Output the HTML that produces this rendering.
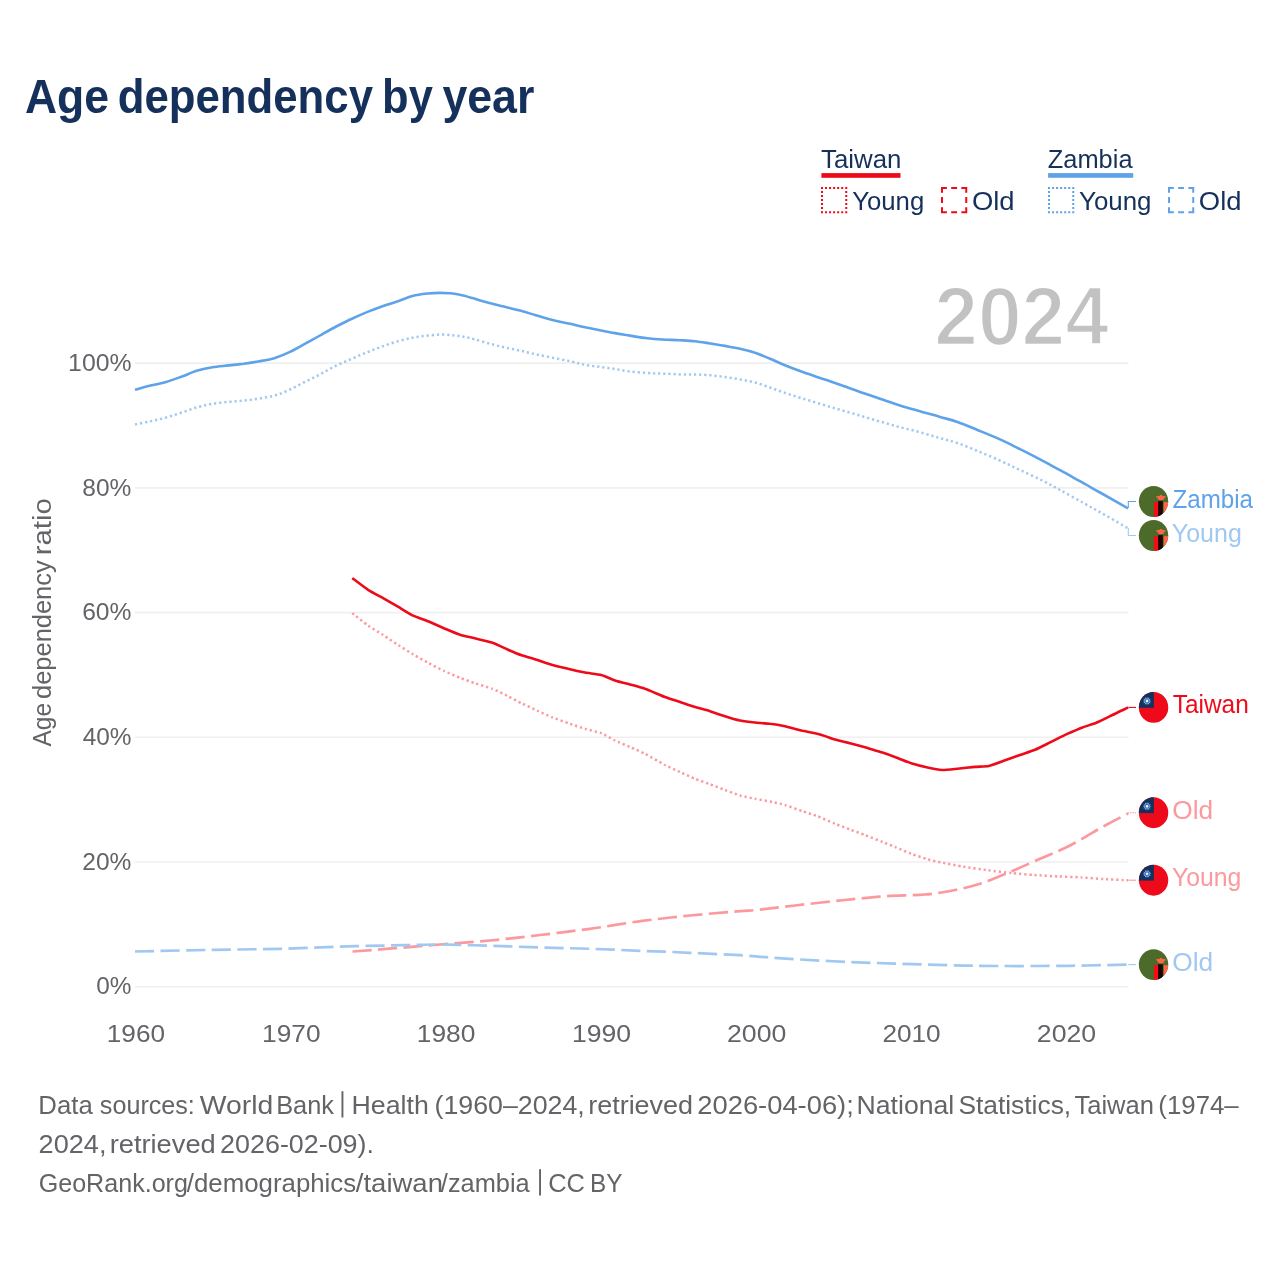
<!DOCTYPE html>
<html><head><meta charset="utf-8"><title>Age dependency by year</title>
<style>
html,body{margin:0;padding:0;background:#fff;}
body{width:1280px;height:1280px;overflow:hidden;font-family:"Liberation Sans",sans-serif;}
svg{display:block;will-change:transform;}
text{font-family:"Liberation Sans",sans-serif;}
</style></head><body>
<svg width="1280" height="1280" viewBox="0 0 1280 1280">
<rect width="1280" height="1280" fill="#ffffff"/>
<defs>
<clipPath id="cc"><ellipse cx="0" cy="0" rx="14.7" ry="15.45"/></clipPath>
<g id="zm"><g clip-path="url(#cc)"><rect x="-16" y="-16" width="32" height="32" fill="#4c6b2a"/>
<rect x="0.35" y="0.6" width="4.3" height="16" fill="#f80a17"/><rect x="4.6" y="-0.35" width="4.7" height="17" fill="#1e0303"/><rect x="10.2" y="0.6" width="6" height="16" fill="#fe6448"/>
<path d="M2.3,-5.3 L6,-5.5 L6.4,-6.6 L8.4,-6.6 L8.7,-5.5 L12.4,-5.3 L9.5,-1.4 L5.3,-1.4 Z" fill="#fe6448"/></g></g>
<g id="tw"><g clip-path="url(#cc)"><rect x="-16" y="-16" width="32" height="32" fill="#ee0a1a"/>
<rect x="-16" y="-16" width="16.3" height="16.4" fill="#15305c"/>
<polygon points="-6.50,-10.70 -5.80,-9.01 -4.35,-10.12 -4.59,-8.31 -2.78,-8.55 -3.89,-7.10 -2.20,-6.40 -3.89,-5.70 -2.78,-4.25 -4.59,-4.49 -4.35,-2.68 -5.80,-3.79 -6.50,-2.10 -7.20,-3.79 -8.65,-2.68 -8.41,-4.49 -10.22,-4.25 -9.11,-5.70 -10.80,-6.40 -9.11,-7.10 -10.22,-8.55 -8.41,-8.31 -8.65,-10.12 -7.20,-9.01" fill="#72b4f7"/><circle cx="-6.5" cy="-6.4" r="2.0" fill="none" stroke="#15305c" stroke-width="0.55"/><circle cx="-6.5" cy="-6.4" r="1.15" fill="#ffffff"/></g></g>
</defs>
<rect x="821.4" y="173.1" width="79.1" height="4.7" fill="#ee0a19"/>
<rect x="822" y="187.9" width="24.25" height="24.25" fill="none" stroke="#ee0a19" stroke-width="2" stroke-dasharray="2 2.0417" stroke-dashoffset="1"/>
<path d="M942.0,192.8 V187.9 H946.9M961.35,187.9 H966.25 V192.8M966.25,207.25 V212.15 H961.35M946.9,212.15 H942.0 V207.25M951.175,187.9 H957.075M951.175,212.15 H957.075M942.0,197.07500000000002 V202.975M966.25,197.07500000000002 V202.975" fill="none" stroke="#ee0a19" stroke-width="2" stroke-linejoin="miter"/>
<rect x="1048.1" y="173.1" width="85.1" height="4.7" fill="#5ea3e9"/>
<rect x="1049" y="187.9" width="24.25" height="24.25" fill="none" stroke="#5ea3e9" stroke-width="2" stroke-dasharray="2 2.0417" stroke-dashoffset="1"/>
<path d="M1169.0,192.8 V187.9 H1173.9M1188.35,187.9 H1193.25 V192.8M1193.25,207.25 V212.15 H1188.35M1173.9,212.15 H1169.0 V207.25M1178.175,187.9 H1184.075M1178.175,212.15 H1184.075M1169.0,197.07500000000002 V202.975M1193.25,197.07500000000002 V202.975" fill="none" stroke="#5ea3e9" stroke-width="2" stroke-linejoin="miter"/>
<text x="934.3" y="345.2" font-size="83" font-weight="bold" fill="#c2c2c2" stroke="#ffffff" stroke-width="2.4" textLength="174.5" lengthAdjust="spacingAndGlyphs">2024</text>
<line x1="135" x2="1128.5" y1="363.1" y2="363.1" stroke="#efefef" stroke-width="1.6"/>
<line x1="135" x2="1128.5" y1="487.9" y2="487.9" stroke="#efefef" stroke-width="1.6"/>
<line x1="135" x2="1128.5" y1="612.6" y2="612.6" stroke="#efefef" stroke-width="1.6"/>
<line x1="135" x2="1128.5" y1="737.3" y2="737.3" stroke="#efefef" stroke-width="1.6"/>
<line x1="135" x2="1128.5" y1="862" y2="862" stroke="#efefef" stroke-width="1.6"/>
<line x1="135" x2="1128.5" y1="986.8" y2="986.8" stroke="#efefef" stroke-width="1.6"/>
<path d="M352.5,951.5C359.6,951.0 380.4,949.4 395.0,948.2C409.6,947.1 424.2,945.8 440.0,944.5C455.8,943.2 473.3,942.1 490.0,940.5C506.7,938.9 523.3,937.0 540.0,935.0C556.7,933.0 573.3,931.0 590.0,928.8C606.7,926.5 623.3,923.5 640.0,921.2C656.7,919.0 673.3,917.2 690.0,915.5C706.7,913.8 728.3,912.2 740.0,911.2C751.7,910.3 750.8,910.6 760.0,909.6C769.2,908.6 780.8,907.1 795.0,905.5C809.2,903.9 830.0,901.5 845.0,900.0C860.0,898.5 871.7,897.2 885.0,896.2C898.3,895.3 913.3,895.5 925.0,894.5C936.7,893.5 945.8,891.8 955.0,890.0C964.2,888.2 970.8,886.8 980.0,883.8C989.2,880.8 1000.0,876.2 1010.0,872.0C1020.0,867.8 1030.0,863.2 1040.0,858.8C1050.0,854.3 1059.4,850.9 1070.0,845.5C1080.6,840.1 1094.1,831.6 1103.8,826.2C1113.4,820.9 1124.0,815.6 1128.1,813.5" fill="none" stroke="#fc999f" stroke-width="2.7" stroke-linejoin="round" stroke-dasharray="19.2 6.4"/>
<path d="M135.0,951.5C146.7,951.2 180.8,950.5 205.0,950.0C229.2,949.5 255.0,949.4 280.0,948.8C305.0,948.1 334.2,946.8 355.0,946.2C375.8,945.7 390.8,945.5 405.0,945.2C419.2,945.0 425.8,944.4 440.0,944.5C454.2,944.6 473.3,945.2 490.0,945.8C506.7,946.2 523.3,947.0 540.0,947.5C556.7,948.0 573.3,948.2 590.0,948.8C606.7,949.3 623.3,950.1 640.0,950.8C656.7,951.4 673.3,952.0 690.0,952.8C706.7,953.5 728.3,954.6 740.0,955.2C751.7,955.9 750.0,956.0 760.0,956.8C770.0,957.5 785.0,958.6 800.0,959.5C815.0,960.4 833.3,961.3 850.0,962.0C866.7,962.7 883.3,963.2 900.0,963.8C916.7,964.3 933.3,964.9 950.0,965.2C966.7,965.6 980.0,965.9 1000.0,966.0C1020.0,966.1 1048.7,966.0 1070.0,965.8C1091.3,965.5 1118.3,964.8 1128.0,964.6" fill="none" stroke="#a1c8f1" stroke-width="2.7" stroke-linejoin="round" stroke-dasharray="19.2 6.4"/>
<path d="M135.0,424.4C137.6,423.9 145.4,422.4 150.6,421.2C155.8,420.1 161.0,419.0 166.2,417.5C171.5,416.0 176.7,414.2 181.9,412.5C187.1,410.8 192.4,408.7 197.5,407.2C202.6,405.8 207.3,404.6 212.5,403.8C217.7,402.9 223.5,402.4 228.8,401.9C234.0,401.4 238.6,401.2 243.8,400.6C248.9,400.0 254.2,399.4 259.4,398.5C264.6,397.6 269.9,396.9 275.0,395.4C280.1,393.9 284.8,391.9 290.0,389.5C295.2,387.1 301.0,383.9 306.2,381.2C311.5,378.6 316.2,376.4 321.2,373.8C326.2,371.1 331.0,368.1 336.2,365.6C341.5,363.1 347.3,360.8 352.5,358.5C357.7,356.2 362.5,354.1 367.5,352.1C372.5,350.1 377.3,348.2 382.5,346.4C387.7,344.5 393.5,342.5 398.8,341.0C404.0,339.5 409.0,338.4 413.8,337.5C418.5,336.6 422.7,336.1 427.5,335.6C432.3,335.1 437.9,334.5 442.5,334.5C447.1,334.5 451.2,335.1 455.0,335.5C458.8,335.9 461.7,336.4 465.0,337.0C468.3,337.6 470.8,338.3 475.0,339.4C479.2,340.5 485.0,342.4 490.0,343.8C495.0,345.1 500.0,346.4 505.0,347.5C510.0,348.6 515.0,349.5 520.0,350.6C525.0,351.7 529.6,352.9 535.0,354.1C540.4,355.3 546.7,356.6 552.5,357.8C558.3,358.9 564.6,360.1 570.0,361.2C575.4,362.4 580.0,363.8 585.0,364.8C590.0,365.7 595.0,366.2 600.0,366.9C605.0,367.6 610.0,368.2 615.0,369.0C620.0,369.8 624.6,370.8 630.0,371.5C635.4,372.2 642.1,372.6 647.5,373.0C652.9,373.4 657.1,373.4 662.5,373.6C667.9,373.8 674.6,374.2 680.0,374.4C685.4,374.5 690.0,374.4 695.0,374.5C700.0,374.6 705.0,374.8 710.0,375.2C715.0,375.7 720.0,376.4 725.0,377.1C730.0,377.8 735.0,378.5 740.0,379.4C745.0,380.3 750.0,381.1 755.0,382.5C760.0,383.9 765.0,385.8 770.0,387.5C775.0,389.2 780.0,391.2 785.0,392.9C790.0,394.6 795.0,396.2 800.0,397.8C805.0,399.3 810.0,400.7 815.0,402.2C820.0,403.8 825.8,405.6 830.0,406.9C834.2,408.1 835.0,408.3 840.0,409.8C845.0,411.2 853.3,413.6 860.0,415.6C866.7,417.6 873.3,419.6 880.0,421.5C886.7,423.4 893.3,425.5 900.0,427.2C906.7,429.0 913.3,430.4 920.0,432.2C926.7,434.1 933.8,436.3 940.0,438.1C946.2,439.9 951.2,441.0 957.5,443.1C963.8,445.2 970.4,448.1 977.5,451.0C984.6,453.9 992.9,457.4 1000.0,460.6C1007.1,463.8 1012.9,466.7 1020.0,470.0C1027.1,473.3 1035.8,477.3 1042.5,480.6C1049.2,483.9 1053.1,486.2 1060.0,490.0C1066.9,493.8 1076.2,498.9 1083.8,503.1C1091.2,507.3 1097.6,510.8 1105.0,515.0C1112.4,519.2 1124.2,526.1 1128.0,528.3" fill="none" stroke="#a1c8f1" stroke-width="2.5" stroke-linejoin="round" stroke-dasharray="2.2 2.92"/>
<path d="M352.3,613.1C353.9,614.4 365.0,623.4 368.1,625.6C371.2,627.8 380.0,633.0 383.1,635.0C386.2,637.0 395.8,643.5 398.8,645.4C401.8,647.3 410.1,652.6 413.1,654.4C416.1,656.2 425.6,661.4 428.8,663.1C431.9,664.8 441.3,669.8 444.4,671.2C447.5,672.7 456.9,676.5 460.0,677.8C463.1,679.0 472.4,682.4 475.6,683.5C478.9,684.6 489.3,687.5 492.5,688.8C495.7,690.0 504.5,694.5 507.5,696.0C510.5,697.5 519.5,702.3 522.5,703.8C525.5,705.2 534.5,709.4 537.5,710.8C540.5,712.1 549.2,716.2 552.5,717.5C555.8,718.8 566.8,722.6 570.0,723.8C573.2,724.9 581.9,727.8 585.0,728.8C588.1,729.7 598.2,732.1 601.2,733.2C604.2,734.4 612.1,739.1 615.0,740.5C617.9,741.9 627.0,745.7 630.0,747.0C633.0,748.3 641.5,752.0 645.0,753.8C648.5,755.5 661.5,763.2 665.0,765.0C668.5,766.8 677.0,770.6 680.0,772.0C683.0,773.4 692.0,777.5 695.0,778.8C698.0,780.0 707.0,783.1 710.0,784.2C713.0,785.4 722.0,788.9 725.0,790.0C728.0,791.1 737.0,794.6 740.0,795.5C743.0,796.4 751.8,798.1 755.0,798.8C758.2,799.4 769.5,801.4 772.5,802.0C775.5,802.6 782.0,804.1 785.0,805.0C788.0,805.9 799.2,810.1 802.5,811.2C805.8,812.4 814.2,815.0 817.5,816.2C820.8,817.5 831.8,822.4 835.0,823.8C838.2,825.1 847.0,828.4 850.0,829.5C853.0,830.6 861.8,833.8 865.0,835.0C868.2,836.2 879.4,840.8 882.5,842.0C885.6,843.2 893.4,846.3 896.2,847.5C899.1,848.7 908.1,852.6 911.2,853.8C914.4,854.9 924.5,858.4 927.5,859.2C930.5,860.1 937.7,861.8 941.2,862.5C944.8,863.2 958.4,865.8 963.1,866.6C967.8,867.4 983.5,869.6 988.4,870.3C993.3,870.9 1007.3,872.6 1011.9,873.1C1016.5,873.6 1029.7,874.7 1034.4,875.0C1039.1,875.3 1054.1,876.3 1058.8,876.5C1063.4,876.7 1076.8,877.1 1081.2,877.4C1085.8,877.7 1099.1,878.8 1103.8,879.1C1108.4,879.4 1125.7,880.1 1128.1,880.2" fill="none" stroke="#fc999f" stroke-width="2.5" stroke-linejoin="round" stroke-dasharray="2.2 2.92"/>
<path d="M135.0,389.8C137.6,389.1 145.4,386.9 150.6,385.6C155.8,384.3 161.0,383.4 166.2,381.9C171.5,380.4 176.7,378.4 181.9,376.5C187.1,374.6 192.4,372.1 197.5,370.6C202.6,369.1 207.3,368.1 212.5,367.2C217.7,366.4 223.5,366.0 228.8,365.4C234.0,364.8 238.6,364.4 243.8,363.8C248.9,363.1 254.2,362.2 259.4,361.2C264.6,360.3 269.9,359.5 275.0,357.9C280.1,356.3 284.8,354.4 290.0,351.9C295.2,349.4 301.0,346.0 306.2,343.1C311.5,340.2 316.2,337.5 321.2,334.8C326.2,332.0 331.0,329.2 336.2,326.5C341.5,323.8 347.3,320.9 352.5,318.5C357.7,316.1 362.5,313.9 367.5,311.9C372.5,309.9 377.3,308.1 382.5,306.2C387.7,304.4 393.8,302.7 398.8,301.0C403.8,299.3 407.7,297.1 412.5,295.9C417.3,294.6 422.9,294.0 427.5,293.5C432.1,293.0 436.2,292.9 440.0,292.9C443.8,292.9 446.7,292.9 450.0,293.2C453.3,293.6 456.2,293.9 460.0,294.8C463.8,295.6 467.9,296.8 472.5,298.1C477.1,299.4 482.3,301.1 487.5,302.5C492.7,303.9 498.3,305.2 503.8,306.6C509.2,308.0 514.8,309.2 520.0,310.6C525.2,312.0 529.6,313.4 535.0,315.0C540.4,316.6 546.7,318.5 552.5,320.0C558.3,321.5 564.6,322.5 570.0,323.8C575.4,325.0 580.0,326.2 585.0,327.2C590.0,328.3 595.0,329.3 600.0,330.2C605.0,331.2 610.0,332.2 615.0,333.1C620.0,334.0 624.6,334.7 630.0,335.6C635.4,336.5 642.1,337.6 647.5,338.2C652.9,338.9 657.1,339.2 662.5,339.5C667.9,339.8 674.6,339.9 680.0,340.2C685.4,340.5 690.0,340.7 695.0,341.2C700.0,341.8 705.0,342.7 710.0,343.5C715.0,344.3 720.0,345.0 725.0,345.9C730.0,346.8 735.0,347.6 740.0,348.8C745.0,349.9 750.0,351.1 755.0,352.8C760.0,354.4 765.0,356.7 770.0,358.8C775.0,360.8 780.0,363.2 785.0,365.2C790.0,367.3 795.0,369.2 800.0,371.0C805.0,372.8 810.0,374.5 815.0,376.2C820.0,378.0 825.8,379.8 830.0,381.2C834.2,382.7 835.0,383.0 840.0,384.8C845.0,386.5 853.3,389.6 860.0,391.9C866.7,394.2 873.3,396.5 880.0,398.8C886.7,401.0 893.3,403.3 900.0,405.4C906.7,407.5 913.3,409.3 920.0,411.2C926.7,413.2 933.8,415.1 940.0,416.9C946.2,418.7 951.2,419.7 957.5,421.9C963.8,424.1 970.4,427.1 977.5,430.0C984.6,432.9 992.9,436.2 1000.0,439.4C1007.1,442.6 1013.3,445.9 1020.0,449.2C1026.7,452.5 1033.3,455.9 1040.0,459.4C1046.7,462.9 1053.3,466.6 1060.0,470.2C1066.7,473.8 1073.3,477.5 1080.0,481.2C1086.7,484.9 1092.0,488.0 1100.0,492.5C1108.0,497.0 1123.3,505.7 1128.0,508.3" fill="none" stroke="#5ea3e9" stroke-width="2.6" stroke-linejoin="round"/>
<path d="M352.3,578.1C353.9,579.3 365.0,587.8 368.1,589.8C371.2,591.8 380.0,596.4 383.1,598.1C386.2,599.9 395.8,605.5 398.8,607.2C401.8,609.0 410.1,614.2 413.1,615.6C416.1,617.0 425.6,620.2 428.8,621.5C431.9,622.8 441.3,627.2 444.4,628.5C447.5,629.8 456.9,633.8 460.0,634.8C463.1,635.8 472.4,637.7 475.6,638.5C478.9,639.3 489.3,641.6 492.5,642.8C495.7,643.9 504.5,648.2 507.5,649.5C510.5,650.8 519.5,654.5 522.5,655.5C525.5,656.5 534.5,659.0 537.5,660.0C540.5,661.0 549.2,664.1 552.5,665.0C555.8,665.9 566.8,668.5 570.0,669.2C573.2,670.0 581.9,671.9 585.0,672.5C588.1,673.1 598.2,674.2 601.2,675.0C604.2,675.8 612.1,679.5 615.0,680.5C617.9,681.5 627.0,683.7 630.0,684.5C633.0,685.3 641.5,687.5 645.0,688.8C648.5,690.0 661.5,695.7 665.0,697.0C668.5,698.3 677.0,701.0 680.0,702.0C683.0,703.0 692.0,706.1 695.0,707.0C698.0,707.9 707.0,710.3 710.0,711.2C713.0,712.2 722.0,715.3 725.0,716.2C728.0,717.2 737.0,719.9 740.0,720.5C743.0,721.1 752.0,722.2 755.0,722.5C758.0,722.8 767.0,723.4 770.0,723.8C773.0,724.1 781.8,725.5 785.0,726.2C788.2,727.0 799.2,730.0 802.5,730.8C805.8,731.5 814.2,732.9 817.5,733.8C820.8,734.6 831.8,738.5 835.0,739.5C838.2,740.5 847.0,742.5 850.0,743.2C853.0,744.0 861.8,746.3 865.0,747.2C868.2,748.2 879.4,751.5 882.5,752.5C885.6,753.5 893.4,756.4 896.2,757.5C899.1,758.6 908.1,762.2 911.2,763.2C914.4,764.2 924.4,766.8 927.5,767.5C930.6,768.2 938.9,769.9 941.9,770.0C944.9,770.1 954.2,769.1 957.5,768.8C960.8,768.4 971.9,767.2 975.0,766.9C978.1,766.6 985.8,766.6 988.8,766.0C991.7,765.4 1001.3,761.7 1004.4,760.6C1007.5,759.5 1016.9,756.1 1020.0,755.0C1023.1,753.9 1031.9,751.1 1035.0,749.8C1038.1,748.4 1048.1,743.4 1051.2,741.9C1054.4,740.4 1063.1,735.8 1066.2,734.4C1069.4,733.0 1079.4,728.7 1082.5,727.5C1085.6,726.3 1094.5,723.5 1097.5,722.2C1100.5,721.0 1109.4,716.5 1112.5,715.0C1115.6,713.5 1126.5,708.2 1128.1,707.5" fill="none" stroke="#ee0a19" stroke-width="2.6" stroke-linejoin="round"/>
<path d="M1128.3,508 V501.5 H1136" fill="none" stroke="#5ea3e9" stroke-width="1.1"/>
<use href="#zm" x="1153.55" y="501.5"/>
<path d="M1128.3,528 V535.5 H1136" fill="none" stroke="#a1c8f1" stroke-width="1.1"/>
<use href="#zm" x="1153.55" y="535.5"/>
<path d="M1128.3,707.4 H1136" fill="none" stroke="#ee0a19" stroke-width="1.1"/>
<use href="#tw" x="1153.55" y="707.4"/>
<path d="M1128.3,813.5 V812.7 H1136" fill="none" stroke="#fc999f" stroke-width="1.1" stroke-dasharray="1.6 0.9"/>
<use href="#tw" x="1153.55" y="812.7"/>
<path d="M1128.3,880.2 H1136" fill="none" stroke="#fc999f" stroke-width="1.1"/>
<use href="#tw" x="1153.55" y="880.2"/>
<path d="M1128.3,964.6 H1136" fill="none" stroke="#a1c8f1" stroke-width="1.1"/>
<use href="#zm" x="1153.55" y="964.6"/>
<text x="24.96" y="112.6" font-size="48" font-weight="bold" fill="#15305a" textLength="84.13" lengthAdjust="spacingAndGlyphs">Age</text>
<text x="117.68" y="112.6" font-size="48" font-weight="bold" fill="#15305a" textLength="255.32" lengthAdjust="spacingAndGlyphs">dependency</text>
<text x="382.10" y="112.6" font-size="48" font-weight="bold" fill="#15305a" textLength="50.73" lengthAdjust="spacingAndGlyphs">by</text>
<text x="442.46" y="112.6" font-size="48" font-weight="bold" fill="#15305a" textLength="91.87" lengthAdjust="spacingAndGlyphs">year</text>
<text x="821.11" y="167.5" font-size="26.1" fill="#15305a" textLength="80.34" lengthAdjust="spacingAndGlyphs">Taiwan</text>
<text x="852.13" y="210" font-size="26.1" fill="#15305a" textLength="72.09" lengthAdjust="spacingAndGlyphs">Young</text>
<text x="971.94" y="210" font-size="26.1" fill="#15305a" textLength="42.69" lengthAdjust="spacingAndGlyphs">Old</text>
<text x="1047.80" y="167.5" font-size="26.1" fill="#15305a" textLength="84.72" lengthAdjust="spacingAndGlyphs">Zambia</text>
<text x="1079.03" y="210" font-size="26.1" fill="#15305a" textLength="72.46" lengthAdjust="spacingAndGlyphs">Young</text>
<text x="1198.84" y="210" font-size="26.1" fill="#15305a" textLength="42.69" lengthAdjust="spacingAndGlyphs">Old</text>
<text x="68.11" y="370.70000000000005" font-size="24.8" fill="#636467" textLength="63.40" lengthAdjust="spacingAndGlyphs">100%</text>
<text x="82.36" y="495.5" font-size="24.8" fill="#636467" textLength="49.04" lengthAdjust="spacingAndGlyphs">80%</text>
<text x="82.17" y="620.2" font-size="24.8" fill="#636467" textLength="49.30" lengthAdjust="spacingAndGlyphs">60%</text>
<text x="82.64" y="744.9" font-size="24.8" fill="#636467" textLength="48.81" lengthAdjust="spacingAndGlyphs">40%</text>
<text x="82.35" y="869.6" font-size="24.8" fill="#636467" textLength="49.07" lengthAdjust="spacingAndGlyphs">20%</text>
<text x="96.23" y="994.4" font-size="24.8" fill="#636467" textLength="35.23" lengthAdjust="spacingAndGlyphs">0%</text>
<text x="106.75" y="1041.8" font-size="24.8" fill="#636467" textLength="58.31" lengthAdjust="spacingAndGlyphs">1960</text>
<text x="262.10" y="1041.8" font-size="24.8" fill="#636467" textLength="58.40" lengthAdjust="spacingAndGlyphs">1970</text>
<text x="416.74" y="1041.8" font-size="24.8" fill="#636467" textLength="58.63" lengthAdjust="spacingAndGlyphs">1980</text>
<text x="571.97" y="1041.8" font-size="24.8" fill="#636467" textLength="59.11" lengthAdjust="spacingAndGlyphs">1990</text>
<text x="727.04" y="1041.8" font-size="24.8" fill="#636467" textLength="59.30" lengthAdjust="spacingAndGlyphs">2000</text>
<text x="882.41" y="1041.8" font-size="24.8" fill="#636467" textLength="58.29" lengthAdjust="spacingAndGlyphs">2010</text>
<text x="1036.84" y="1041.8" font-size="24.8" fill="#636467" textLength="59.30" lengthAdjust="spacingAndGlyphs">2020</text>
<text x="1172.44" y="507.7" font-size="26.1" fill="#5ea3e9" textLength="80.58" lengthAdjust="spacingAndGlyphs">Zambia</text>
<text x="1171.85" y="541.7" font-size="26.1" fill="#a1c8f1" textLength="69.93" lengthAdjust="spacingAndGlyphs">Young</text>
<text x="1172.74" y="713.4" font-size="26.1" fill="#ee0a19" textLength="76.05" lengthAdjust="spacingAndGlyphs">Taiwan</text>
<text x="1172.29" y="818.9" font-size="26.1" fill="#fc999f" textLength="40.87" lengthAdjust="spacingAndGlyphs">Old</text>
<text x="1171.95" y="886.4" font-size="26.1" fill="#fc999f" textLength="69.40" lengthAdjust="spacingAndGlyphs">Young</text>
<text x="1172.29" y="970.8" font-size="26.1" fill="#a1c8f1" textLength="40.87" lengthAdjust="spacingAndGlyphs">Old</text>
<text x="38.37" y="1114" font-size="26.1" fill="#636467" textLength="54.36" lengthAdjust="spacingAndGlyphs">Data</text>
<text x="99.86" y="1114" font-size="26.1" fill="#636467" textLength="95.00" lengthAdjust="spacingAndGlyphs">sources:</text>
<text x="199.71" y="1114" font-size="26.1" fill="#636467" textLength="73.52" lengthAdjust="spacingAndGlyphs">World</text>
<text x="276.15" y="1114" font-size="26.1" fill="#636467" textLength="57.87" lengthAdjust="spacingAndGlyphs">Bank</text>
<text x="351.54" y="1114" font-size="26.1" fill="#636467" textLength="77.28" lengthAdjust="spacingAndGlyphs">Health</text>
<text x="434.56" y="1114" font-size="26.1" fill="#636467" textLength="150.26" lengthAdjust="spacingAndGlyphs">(1960–2024,</text>
<text x="588.20" y="1114" font-size="26.1" fill="#636467" textLength="104.92" lengthAdjust="spacingAndGlyphs">retrieved</text>
<text x="697.37" y="1114" font-size="26.1" fill="#636467" textLength="156.41" lengthAdjust="spacingAndGlyphs">2026-04-06);</text>
<text x="856.55" y="1114" font-size="26.1" fill="#636467" textLength="97.71" lengthAdjust="spacingAndGlyphs">National</text>
<text x="958.40" y="1114" font-size="26.1" fill="#636467" textLength="112.76" lengthAdjust="spacingAndGlyphs">Statistics,</text>
<text x="1074.42" y="1114" font-size="26.1" fill="#636467" textLength="79.54" lengthAdjust="spacingAndGlyphs">Taiwan</text>
<text x="1158.37" y="1114" font-size="26.1" fill="#636467" textLength="80.36" lengthAdjust="spacingAndGlyphs">(1974–</text>
<text x="38.62" y="1153" font-size="26.1" fill="#636467" textLength="67.86" lengthAdjust="spacingAndGlyphs">2024,</text>
<text x="109.67" y="1153" font-size="26.1" fill="#636467" textLength="106.11" lengthAdjust="spacingAndGlyphs">retrieved</text>
<text x="220.14" y="1153" font-size="26.1" fill="#636467" textLength="153.81" lengthAdjust="spacingAndGlyphs">2026-02-09).</text>
<text x="38.67" y="1192" font-size="26.1" fill="#636467" textLength="149.27" lengthAdjust="spacingAndGlyphs">GeoRank.org</text>
<text x="186.85" y="1192" font-size="26.1" fill="#636467" textLength="169.29" lengthAdjust="spacingAndGlyphs">/demographics</text>
<text x="355.82" y="1192" font-size="26.1" fill="#636467" textLength="87.13" lengthAdjust="spacingAndGlyphs">/taiwan</text>
<text x="440.85" y="1192" font-size="26.1" fill="#636467" textLength="88.86" lengthAdjust="spacingAndGlyphs">/zambia</text>
<text x="548.14" y="1192" font-size="26.1" fill="#636467" textLength="36.77" lengthAdjust="spacingAndGlyphs">CC</text>
<text x="590.00" y="1192" font-size="26.1" fill="#636467" textLength="32.45" lengthAdjust="spacingAndGlyphs">BY</text>
<text transform="translate(50.6,746.3) rotate(-90)" x="-0.25" y="0" font-size="26.1" fill="#636467" textLength="43.57" lengthAdjust="spacingAndGlyphs">Age</text>
<text transform="translate(50.6,746.3) rotate(-90)" x="47.37" y="0" font-size="26.1" fill="#636467" textLength="138.59" lengthAdjust="spacingAndGlyphs">dependency</text>
<text transform="translate(50.6,746.3) rotate(-90)" x="191.03" y="0" font-size="26.1" fill="#636467" textLength="57.18" lengthAdjust="spacingAndGlyphs">ratio</text>
<rect x="341.5" y="1091.2" width="1.9" height="26.3" fill="#636467"/>
<rect x="539.1" y="1169.2" width="1.9" height="26.3" fill="#636467"/>
</svg></body></html>
